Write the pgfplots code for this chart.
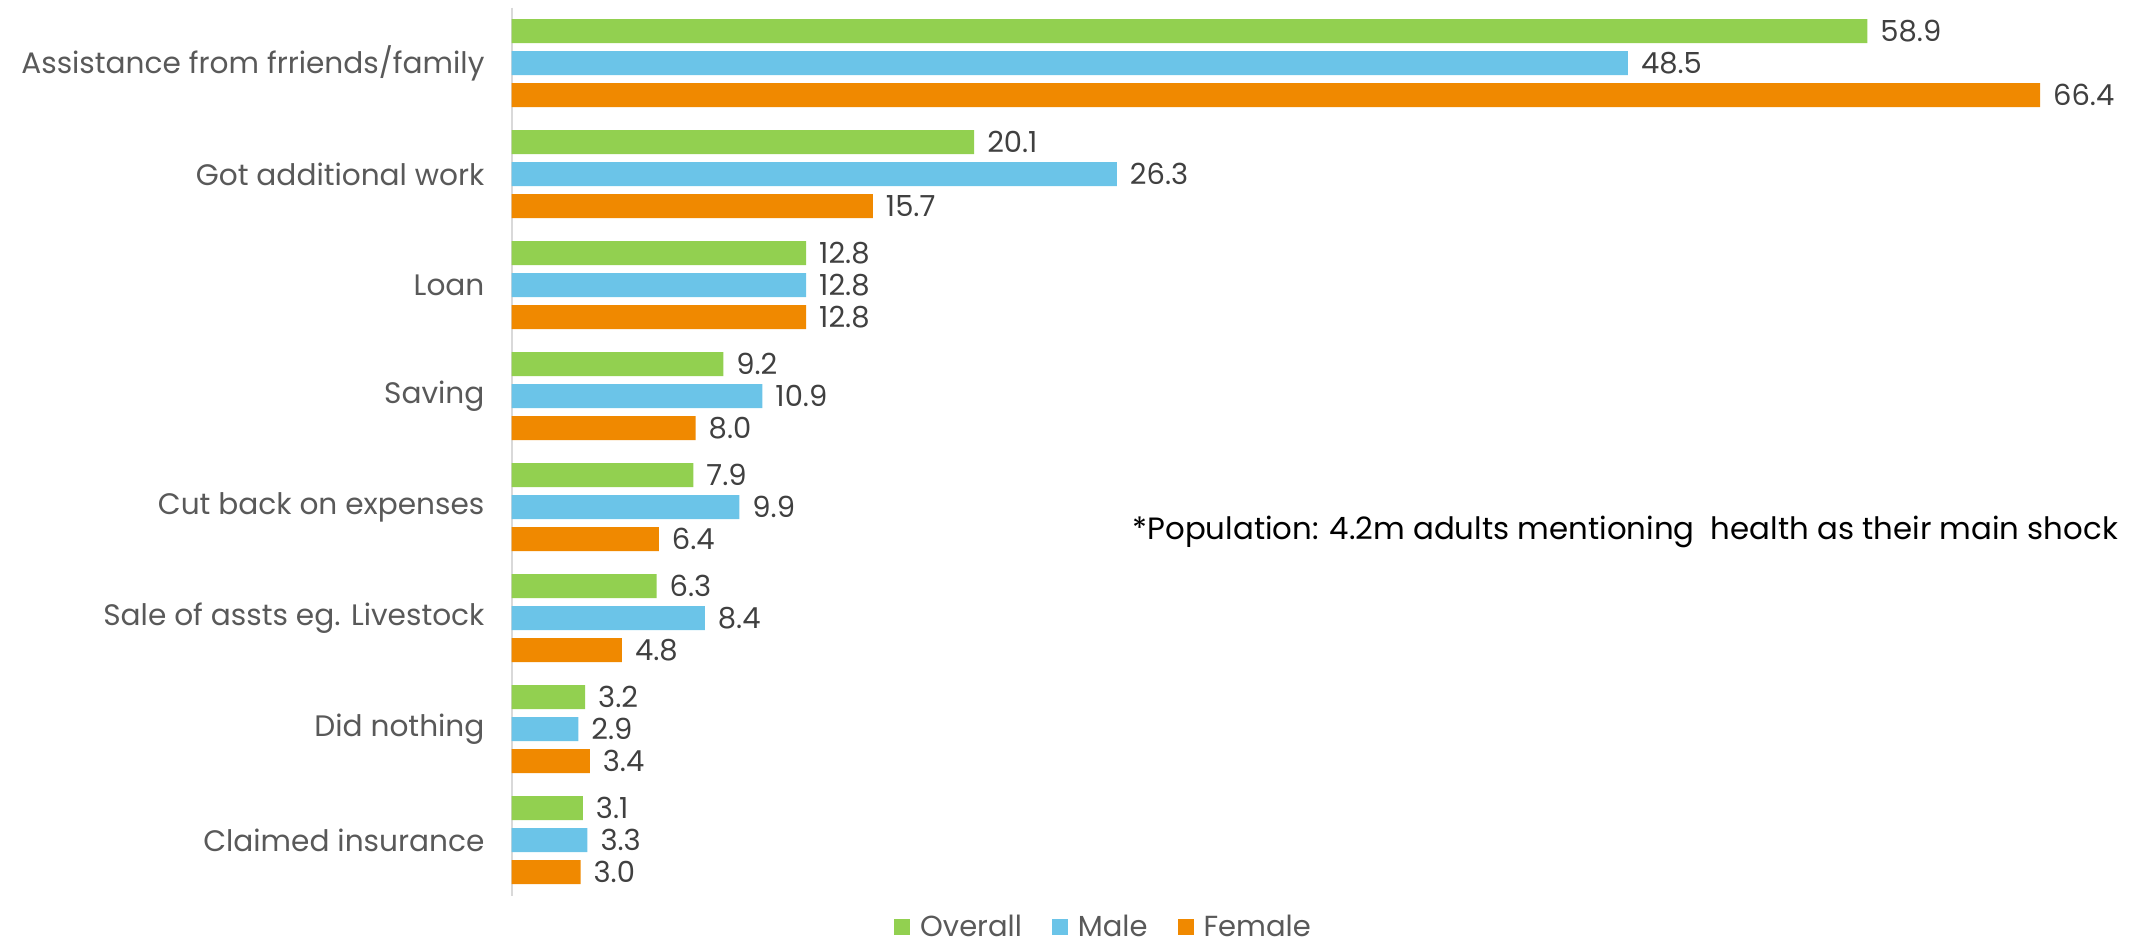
\documentclass[border=0pt]{standalone}
\usepackage{fontspec}
\setmainfont{Poppins}
\usepackage{pgfplots}
\pgfplotsset{compat=1.18}
\definecolor{cOverall}{HTML}{92D050}
\definecolor{cMale}{HTML}{6BC4E8}
\definecolor{cFemale}{HTML}{F08900}
\definecolor{tickgray}{HTML}{595959}
\definecolor{labelgray}{HTML}{404040}
\definecolor{axisgray}{HTML}{D9D9D9}

\begin{document}
\begin{tikzpicture}
\useasboundingbox (0,0) rectangle (1069.5pt,472.5pt);
\begin{axis}[
  at={(255.75pt,24.75pt)}, anchor=south west,
  scale only axis, width=805.7pt, height=444pt,
  xbar, bar width=12pt,
  xmin=0, xmax=70, ymin=-0.5, ymax=7.5, y dir=reverse,
  axis x line=none, axis y line*=left,
  y axis line style={draw=axisgray, line width=1pt, -},
  major tick length=0,
  ytick={0,...,7},
  yticklabels={Assistance from frriends/family, Got additional work, Loan, Saving,
    Cut back on expenses, Sale of assts eg. Livestock, Did nothing, Claimed insurance},
  yticklabel style={font=\fontsize{14.8}{16}\selectfont, text=tickgray, xshift=-10pt},
  clip=false,
  /pgf/number format/assume math mode=true,
  nodes near coords={\pgfmathprintnumber[fixed,fixed zerofill,precision=1]{\pgfplotspointmeta}},
  every node near coord/.append style={font=\fontsize{14.5}{16}\selectfont, text=labelgray, xshift=3pt},
  legend columns=3,
  legend style={draw=none, at={(0.368,-0.036)}, anchor=center,
    font=\fontsize{14.5}{16}\selectfont, text=tickgray,
    /tikz/every odd column/.append style={column sep=3pt},
    /tikz/every even column/.append style={column sep=13pt}},
  legend image code/.code={\fill[#1] (0pt,-4pt) rectangle (8pt,4pt);},
]
\addplot[fill=cOverall, draw=none, bar shift=16pt] coordinates {
 (58.9,0) (20.1,1) (12.8,2) (9.2,3) (7.9,4) (6.3,5) (3.2,6) (3.1,7)};
\addplot[fill=cMale, draw=none, bar shift=0pt] coordinates {
 (48.5,0) (26.3,1) (12.8,2) (10.9,3) (9.9,4) (8.4,5) (2.9,6) (3.3,7)};
\addplot[fill=cFemale, draw=none, bar shift=-16pt] coordinates {
 (66.4,0) (15.7,1) (12.8,2) (8.0,3) (6.4,4) (4.8,5) (3.4,6) (3.0,7)};
\legend{Overall,Male,Female}
\node[anchor=east, font=\fontsize{15.4}{16}\selectfont, text=black, inner sep=0pt]
  at (axis cs:69.8,4.225) {*Population: 4.2m adults mentioning\ \ health as their main shock};
\end{axis}
\end{tikzpicture}
\end{document}
